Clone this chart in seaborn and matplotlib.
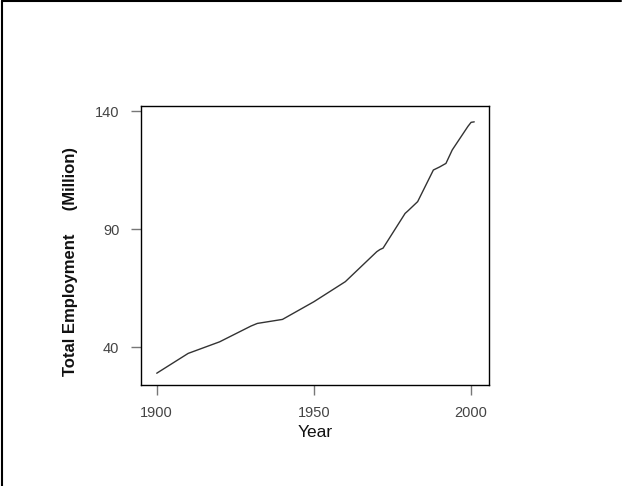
import matplotlib
matplotlib.use("Agg")
import matplotlib.pyplot as plt
import seaborn as sns
import pandas as pd
from matplotlib.lines import Line2D

years = [1900, 1910, 1920, 1930, 1932, 1940, 1950, 1960, 1970, 1971, 1972,
         1979, 1980, 1983, 1988, 1990, 1992, 1994, 1996, 1999, 2000, 2001]
employment = [28.9, 37.3, 42.2, 48.9, 50.0, 51.7, 59.2, 67.7, 80.4, 81.3, 81.9,
              96.6, 97.8, 101.6, 115.0, 116.3, 117.8, 123.5, 127.5, 133.5, 135.2, 135.4]
x_ticks = [1900, 1950, 2000]
y_ticks = [40, 90, 140]
x_label = "Year"
y_label = "Total Employment     (Million)"

df = pd.DataFrame({"year": years, "employment": employment})

sns.set_style("white")
plt.rcParams["font.family"] = ["Liberation Sans", "DejaVu Sans"]

fig = plt.figure(figsize=(6.22, 4.86), dpi=100)
fig.patch.set_facecolor("white")
ax = fig.add_axes([0.2267, 0.2068, 0.5595, 0.575])

sns.lineplot(data=df, x="year", y="employment", ax=ax, color="#333333", linewidth=1.0)

ax.set_xlim(1895.0, 2005.7)
ax.set_ylim(23.7, 142.1)
ax.set_xticks(x_ticks)
ax.set_yticks(y_ticks)
ax.set_xticklabels([str(t) for t in x_ticks], fontsize=10.5, color="#444444")
ax.set_yticklabels([str(t) for t in y_ticks], fontsize=10.5, color="#444444")
ax.tick_params(axis="both", direction="out", length=7.5, width=1.0, color="#777777",
               bottom=True, left=True)
ax.tick_params(axis="x", pad=7)
ax.tick_params(axis="y", pad=8)
for s in ax.spines.values():
    s.set_visible(True)
    s.set_color("black")
    s.set_linewidth(1.0)

ax.set_xlabel(x_label, fontsize=12.5, color="#111111")
ax.xaxis.set_label_coords(0.5, -0.14)
ax.set_ylabel(y_label, fontsize=12, fontweight="bold", color="#111111")
ax.yaxis.set_label_coords(-0.181, 0.445)

# page border (top, left)
fig.add_artist(Line2D([0.003, 0.003], [0, 0.997], transform=fig.transFigure, color="black", linewidth=1.5))
fig.add_artist(Line2D([0.003, 0.998], [0.997, 0.997], transform=fig.transFigure, color="black", linewidth=1.5))

fig.savefig("out.png", dpi=100, facecolor="white")
